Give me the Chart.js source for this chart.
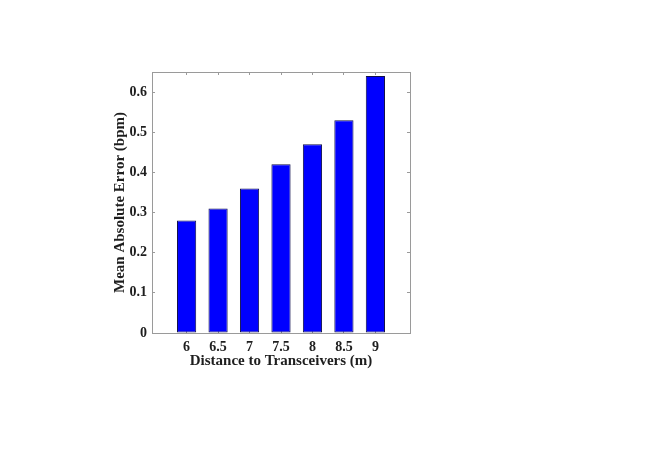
<!DOCTYPE html>
<html>
<head>
<meta charset="utf-8">
<script src="https://cdn.jsdelivr.net/npm/chart.js@4/dist/chart.umd.min.js"></script>
<style>
  html, body { margin: 0; padding: 0; background: #ffffff; }
  #c { display: block; }
</style>
</head>
<body>
<canvas id="c" width="667" height="471"></canvas>
<script>
// ---- data ----
const distances = [6, 6.5, 7, 7.5, 8, 8.5, 9];
const xTickLabels = ['6', '6.5', '7', '7.5', '8', '8.5', '9'];
const maeValues = [0.28, 0.31, 0.36, 0.42, 0.47, 0.53, 0.64];
const yTickValues = [0, 0.1, 0.2, 0.3, 0.4, 0.5, 0.6];
const yTickLabels = ['0', '0.1', '0.2', '0.3', '0.4', '0.5', '0.6'];
const xTitle = 'Distance to Transceivers (m)';
const yTitle = 'Mean Absolute Error (bpm)';

const points = distances.map((d, i) => ({ x: d, y: maeValues[i] }));

const axisGray = '#9a9a9a';
const textColor = '#1e1e1e';
const tickFont = { family: 'Liberation Serif', weight: 'bold', size: 14 };
const titleFont = { family: 'Liberation Serif', weight: 'bold', size: 15 };

function setXTicks(scale) {
  scale.ticks = distances.map(v => ({ value: v }));
}
function setYTicks(scale) {
  scale.ticks = yTickValues.map(v => ({ value: v }));
}

new Chart(document.getElementById('c'), {
  type: 'bar',
  data: {
    datasets: [{
      data: points,
      backgroundColor: '#0000ff',
      borderColor: '#10104a',
      borderWidth: 1,
      borderSkipped: false,
      barPercentage: 0.61,
      categoryPercentage: 1.0
    }]
  },
  options: {
    responsive: false,
    animation: false,
    devicePixelRatio: 1,
    layout: { padding: { left: 111, right: 257, top: 72, bottom: 101 } },
    plugins: { legend: { display: false }, tooltip: { enabled: false } },
    scales: {
      x: {
        type: 'linear',
        position: 'bottom',
        offset: false,
        min: 5.45,
        max: 9.55,
        afterBuildTicks: setXTicks,
        afterFit: s => { s.height = 37; },
        ticks: {
          padding: 9,
          color: textColor,
          font: tickFont,
          maxRotation: 0,
          callback: (v) => { const i = distances.indexOf(v); return i >= 0 ? xTickLabels[i] : ''; }
        },
        grid: { display: true, offset: false, drawOnChartArea: false, drawTicks: true, tickLength: -3, color: axisGray },
        border: { display: true, color: axisGray, width: 1 },
        title: { display: true, text: xTitle, color: textColor, font: titleFont, padding: { top: 0, bottom: 0 } }
      },
      x2: {
        type: 'linear',
        position: 'top',
        offset: false,
        min: 5.45,
        max: 9.55,
        afterBuildTicks: setXTicks,
        afterFit: s => { s.height = 0; },
        ticks: { display: false },
        grid: { display: true, offset: false, drawOnChartArea: false, drawTicks: true, tickLength: -3, color: axisGray },
        border: { display: true, color: axisGray, width: 1 }
      },
      y: {
        type: 'linear',
        position: 'left',
        min: 0,
        max: 0.65,
        afterBuildTicks: setYTicks,
        afterFit: s => { s.width = 41; },
        ticks: {
          padding: 8,
          color: textColor,
          font: tickFont,
          callback: (v) => { const i = yTickValues.findIndex(t => Math.abs(t - v) < 1e-9); return i >= 0 ? yTickLabels[i] : ''; }
        },
        grid: { display: true, drawOnChartArea: false, drawTicks: true, tickLength: -3, color: axisGray },
        border: { display: true, color: axisGray, width: 1 },
        title: { display: true, text: yTitle, color: textColor, font: titleFont, padding: { top: 0, bottom: 0 } }
      },
      y2: {
        type: 'linear',
        position: 'right',
        min: 0,
        max: 0.65,
        afterBuildTicks: setYTicks,
        afterFit: s => { s.width = 0; },
        ticks: { display: false },
        grid: { display: true, drawOnChartArea: false, drawTicks: true, tickLength: -3, color: axisGray },
        border: { display: true, color: axisGray, width: 1 }
      }
    }
  }
});
</script>
</body>
</html>
